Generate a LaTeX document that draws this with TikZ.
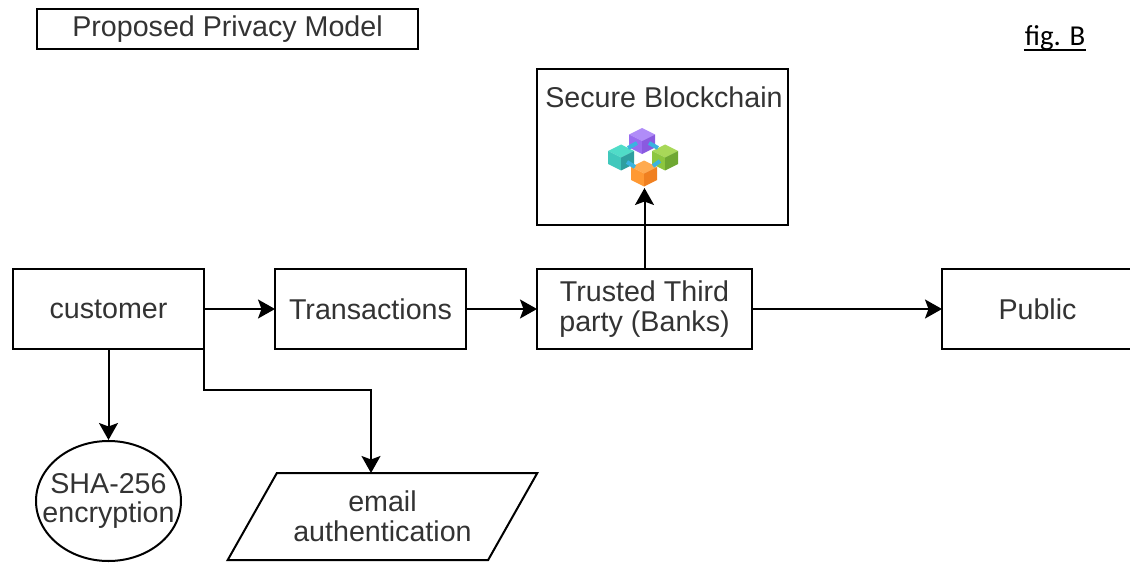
\documentclass[tikz,border=0pt]{standalone}
\usepackage{fontspec}
\setmainfont{Liberation Sans}
\newfontfamily\figfont{Carlito}
\usetikzlibrary{positioning, arrows.meta, shapes.geometric}

\definecolor{textgrey}{HTML}{333333}
\definecolor{linkblue}{HTML}{3BB3E0}
\definecolor{purpletop}{HTML}{B08CF8}
\definecolor{purpleleft}{HTML}{9A6CF0}
\definecolor{purpleright}{HTML}{8A5AE0}
\definecolor{tealtop}{HTML}{50DCC8}
\definecolor{tealleft}{HTML}{40C8BC}
\definecolor{tealright}{HTML}{2F9F9F}
\definecolor{greentop}{HTML}{A8D858}
\definecolor{greenleft}{HTML}{8CC63F}
\definecolor{greenright}{HTML}{6FA832}
\definecolor{orangetop}{HTML}{FFAA50}
\definecolor{orangeleft}{HTML}{FF9933}
\definecolor{orangeright}{HTML}{F08020}

\tikzset{
    flowbox/.style={draw, outer sep=0, minimum width=3.82cm, minimum height=1.6cm,
        align=center, text=textgrey, font=\fontsize{16.3}{17}\selectfont},
    flowtext/.style={text=textgrey, align=center, font=\fontsize{16.3}{17}\selectfont},
    pics/blockcube/.style n args={3}{code={
        \fill [#1] (0,.26) -- (.26,.13) -- (0,0) -- (-.26,.13) -- cycle;
        \fill [#2] (-.26,.13) -- (0,0) -- (0,-.26) -- (-.26,-.13) -- cycle;
        \fill [#3] (.26,.13) -- (0,0) -- (0,-.26) -- (.26,-.13) -- cycle;
    }}
}

\begin{document}
\begin{tikzpicture}[>={Stealth[length=.34cm, width=.38cm, inset=.07cm]}, line width=.04cm]
    \useasboundingbox (0,0) rectangle (22.6,-11.26);

    \node [flowbox,
    minimum width=7.62cm,
    minimum height=.8cm
    ] (title) at (4.55,-.58) {Proposed Privacy Model};

    \node [flowbox] (customer) at (2.17,-6.18) {customer};

    \node [flowbox,
    right=1.42 of customer
    ] (transactions) {Transactions};

    \node [flowbox,
    minimum width=4.3cm,
    right=1.42 of transactions
    ] (third party) {Trusted Third\\party (Banks)};

    \node [flowbox,
    right=3.8 of third party
    ] (public) {Public};

    \node [draw,
    outer sep=0,
    minimum width=5.02cm,
    minimum height=3.12cm,
    above=.88 of third party,
    xshift=.36cm
    ] (blockchain) {};

    \node [flowtext,
    below=.21 of blockchain.north,
    anchor=north,
    xshift=.03cm
    ] (blockchain text) {Secure Blockchain};

    \node [draw,
    ellipse,
    flowtext,
    inner xsep=-.8cm,
    inner ysep=0,
    minimum width=2.9cm,
    minimum height=2.4cm
    ] (sha) at (2.17,-10.02) {SHA-256\\encryption};

    \node [draw,
    trapezium,
    trapezium left angle=50.8,
    trapezium right angle=129.2,
    trapezium stretches=true,
    flowtext,
    inner sep=0,
    minimum width=6.2cm,
    minimum height=1.74cm
    ] (email) at (7.65,-10.33) {email\\authentication};

    \node [anchor=base, inner sep=0, font=\figfont\fontsize{16.4}{18}\selectfont] (fig b) at (21.1,-.92) {fig. B};
    \draw [line width=.035cm] ([yshift=-.08cm]fig b.base west) -- ([yshift=-.08cm]fig b.base east);

    % the icon
    \coordinate (icon in) at (12.9,-3.76);
    \coordinate (email in) at (7.42,-9.46);
    \pic at (12.84,-2.82) {blockcube={fill=purpletop}{fill=purpleleft}{fill=purpleright}};
    \pic at (12.42,-3.15) {blockcube={fill=tealtop}{fill=tealleft}{fill=tealright}};
    \pic at (13.3,-3.15) {blockcube={fill=greentop}{fill=greenleft}{fill=greenright}};
    \pic at (12.88,-3.47) {blockcube={fill=orangetop}{fill=orangeleft}{fill=orangeright}};
    \draw [linkblue, line width=.08cm]
        (12.56,-2.96) -- (12.74,-2.86)
        (12.98,-2.86) -- (13.16,-2.96)
        (12.7,-3.34) -- (12.54,-3.24)
        (13.06,-3.32) -- (13.2,-3.22);

    % connectors
    \draw [->] (customer) -- (transactions);
    \draw [->] (transactions) -- (third party);
    \draw [->] (third party) -- (public);
    \draw [->] (third party.north) -- (third party.north |- icon in);
    \draw [->] (customer) -- (sha);
    \draw [->]
        (customer.south east) --++ (0, -.82) -|
        (email in);
\end{tikzpicture}
\end{document}
